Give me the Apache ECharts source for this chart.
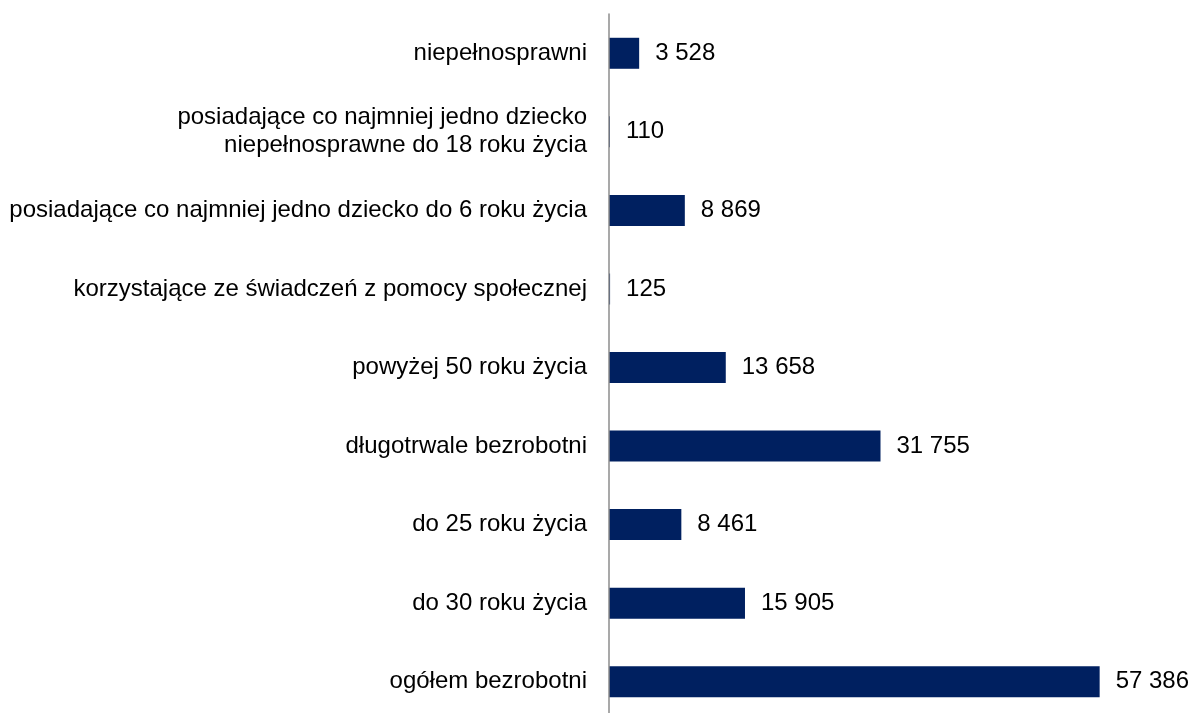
<!DOCTYPE html>
<html>
<head>
<meta charset="utf-8">
<script src="https://cdn.jsdelivr.net/npm/echarts@6/dist/echarts.min.js"></script>
<style>
  html, body { margin: 0; padding: 0; background: #fff; }
  #chart { width: 1192px; height: 713px; }
</style>
</head>
<body>
<div id="chart"></div>
<script>
  // kategorie od dołu do góry (oś Y kategorii rośnie w górę)
  var categories = [
    'ogółem bezrobotni',
    'do 30 roku życia',
    'do 25 roku życia',
    'długotrwale bezrobotni',
    'powyżej 50 roku życia',
    'korzystające ze świadczeń z pomocy społecznej',
    'posiadające co najmniej jedno dziecko do 6 roku życia',
    'posiadające co najmniej jedno dziecko\nniepełnosprawne do 18 roku życia',
    'niepełnosprawni'
  ];
  var values = [57386, 15905, 8461, 31755, 13658, 125, 8869, 110, 3528];

  function fmt(v) {
    return String(v).replace(/\B(?=(\d{3})+(?!\d))/g, ' ');
  }

  var chart = echarts.init(document.getElementById('chart'));
  chart.setOption({
    animation: false,
    textStyle: { fontFamily: '"Liberation Sans", Arial, sans-serif' },
    grid: {
      left: 609,
      right: 70,
      top: 14,
      height: 707,
      outerBoundsMode: 'none',
      containLabel: false
    },
    xAxis: {
      type: 'value',
      min: 0,
      max: 60000,
      show: false
    },
    yAxis: {
      type: 'category',
      data: categories,
      z: 5,
      axisLine: { show: true, lineStyle: { color: '#8c8c8c', width: 1.5 } },
      axisTick: { show: false },
      axisLabel: {
        margin: 22,
        color: '#000',
        fontSize: 24,
        lineHeight: 28,
        align: 'right',
        fontFamily: '"Liberation Sans", Arial, sans-serif'
      }
    },
    series: [{
      type: 'bar',
      data: values,
      barWidth: 31,
      itemStyle: { color: '#002060' },
      label: {
        show: true,
        position: 'right',
        distance: 16,
        color: '#000',
        fontSize: 24,
        fontFamily: '"Liberation Sans", Arial, sans-serif',
        formatter: function (p) { return fmt(p.value); }
      }
    }]
  });
</script>
</body>
</html>
